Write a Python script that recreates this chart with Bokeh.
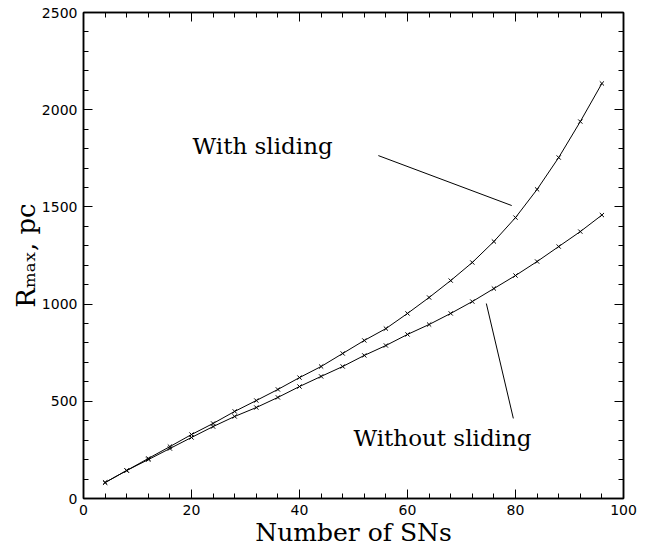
from bokeh.plotting import figure
from bokeh.models import Range1d, LinearAxis, Label, FixedTicker, CustomJSTickFormatter
from bokeh.embed import file_html
from bokeh.resources import INLINE

# ---- data ----
n_sns = [4, 8, 12, 16, 20, 24, 28, 32, 36, 40, 44, 48,
         52, 56, 60, 64, 68, 72, 76, 80, 84, 88, 92, 96]
r_with_sliding = [82, 144, 206, 267, 329, 386, 448, 504, 561, 622, 679, 746,
                  813, 874, 952, 1034, 1121, 1214, 1322, 1445, 1590, 1754, 1939, 2135]
r_without_sliding = [82, 144, 200, 257, 314, 370, 422, 468, 520, 576, 628, 679,
                     736, 787, 844, 895, 952, 1013, 1080, 1147, 1219, 1296, 1373, 1458]
x_major = [0, 20, 40, 60, 80, 100]
x_minor = list(range(0, 101, 4))
y_major = [0, 500, 1000, 1500, 2000, 2500]
y_minor = list(range(0, 2501, 100))

W, H = 646, 550
p = figure(width=W, height=H, output_backend="svg", toolbar_location=None,
           x_range=Range1d(0, 100), y_range=Range1d(0, 2500),
           min_border_left=83, min_border_right=23, min_border_top=12, min_border_bottom=52,
           x_axis_label="Number of SNs", y_axis_label="Rₘₐₓ, pc")
p.grid.visible = False
p.outline_line_color = "black"
p.outline_line_width = 1.5
p.background_fill_color = "white"
p.border_fill_color = "white"

def style(ax, labels=True):
    ax.axis_line_color = "black"
    ax.axis_line_width = 1.5
    ax.major_tick_in = 9
    ax.major_tick_out = 0
    ax.minor_tick_in = 5
    ax.minor_tick_out = 0
    ax.major_tick_line_color = "black"
    ax.minor_tick_line_color = "black"
    ax.major_tick_line_width = 1
    ax.minor_tick_line_width = 1
    ax.major_label_text_font = "DejaVu Sans"
    ax.major_label_text_font_size = "14px"
    ax.major_label_text_color = "black"
    if not labels:
        ax.formatter = CustomJSTickFormatter(code="return ''")
        ax.major_label_standoff = 0

p.xaxis.ticker = FixedTicker(ticks=x_major, minor_ticks=x_minor)
p.yaxis.ticker = FixedTicker(ticks=y_major, minor_ticks=y_minor)
style(p.xaxis[0])
style(p.yaxis[0])
p.xaxis.major_label_standoff = 6
p.yaxis.major_label_standoff = 6
for ax in (p.xaxis[0], p.yaxis[0]):
    ax.axis_label_text_font = "DejaVu Serif"
    ax.axis_label_text_font_style = "normal"
    ax.axis_label_text_color = "black"
p.xaxis.axis_label_text_font_size = "25px"
p.xaxis.axis_label_standoff = 0
p.yaxis.axis_label_text_font_size = "26px"
p.yaxis.axis_label_standoff = -2

top = LinearAxis(ticker=FixedTicker(ticks=x_major, minor_ticks=x_minor))
style(top, labels=False)
p.add_layout(top, "above")
right = LinearAxis(ticker=FixedTicker(ticks=y_major, minor_ticks=y_minor))
style(right, labels=False)
p.add_layout(right, "right")

# curves
p.line(n_sns, r_with_sliding, line_color="black", line_width=1)
p.scatter(n_sns, r_with_sliding, marker="x", size=6, line_color="black", line_width=1)
p.line(n_sns, r_without_sliding, line_color="black", line_width=1)
p.scatter(n_sns, r_without_sliding, marker="x", size=6, line_color="black", line_width=1)

# annotation pointers
p.segment(x0=[54.6, 74.6], y0=[1764, 1003], x1=[79.3, 79.6], y1=[1507, 412],
          line_color="black", line_width=1)

p.add_layout(Label(x=20.2, y=1811, text="With sliding", text_font="DejaVu Serif",
                   text_font_size="23px", text_baseline="middle", text_color="black"))
p.add_layout(Label(x=50.0, y=309, text="Without sliding", text_font="DejaVu Serif",
                   text_font_size="23px", text_baseline="middle", text_color="black"))

open("out.html", "w").write(file_html(p, INLINE))
